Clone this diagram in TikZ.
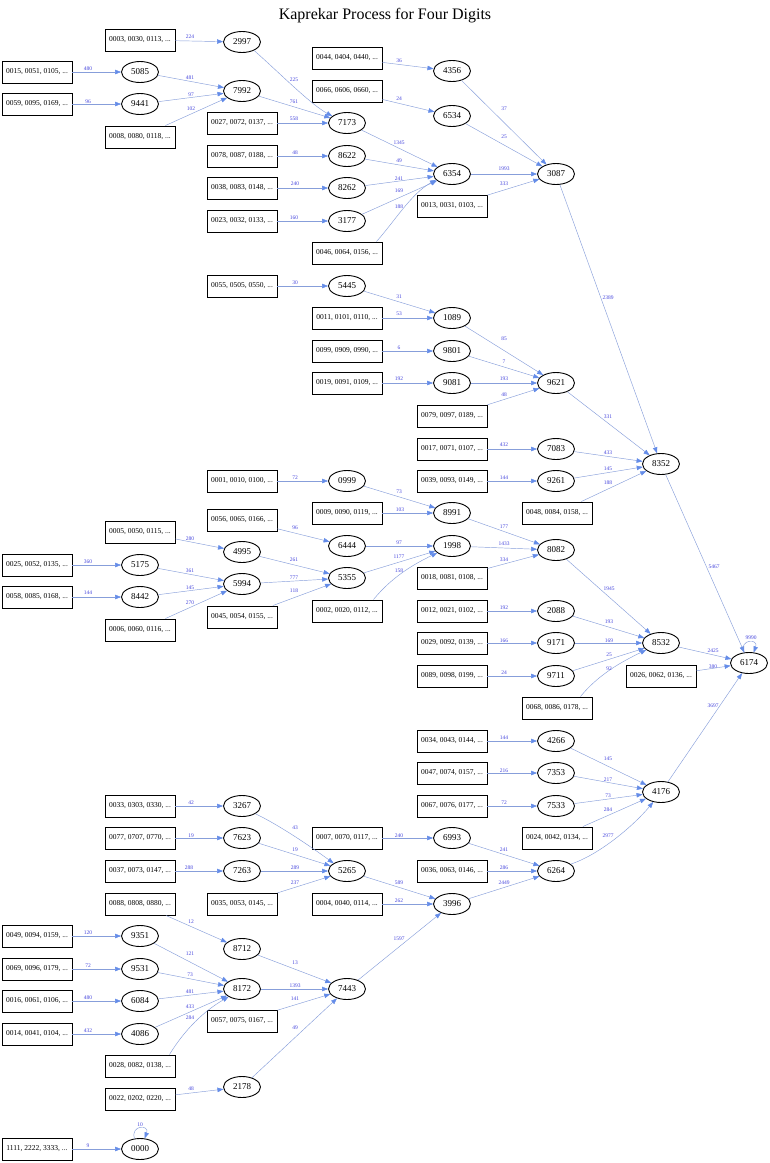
\documentclass[tikz,border=0pt]{standalone}
\usepackage{fontspec}
\setmainfont{Liberation Serif}
\usetikzlibrary{shapes.geometric,arrows.meta}
\definecolor{edgec}{RGB}{135,158,218}
\definecolor{tipc}{RGB}{100,140,232}
\definecolor{lblc}{RGB}{70,70,220}
\tikzset{
  ell/.style={ellipse, draw, line width=0.9pt, minimum width=37pt, minimum height=21pt, inner sep=0pt, font=\fontsize{9}{9}\selectfont},
  bx/.style={rectangle, draw, line width=0.9pt, minimum width=70pt, minimum height=22pt, inner sep=0pt, font=\fontsize{7.5}{7.5}\selectfont},
  con/.style={draw=edgec, line width=0.45pt, -{Triangle[length=6pt,width=4.5pt,color=tipc]}},
  lbl/.style={text=lblc, font=\fontsize{5.5}{5.5}\selectfont, inner sep=0pt},
  ttl/.style={font=\fontsize{16}{16}\selectfont}
}
\newcommand\kedge[4]{\draw[con] (#1) -- (#2) node[lbl] at (#3) {#4};}
\begin{document}
\begin{tikzpicture}[x=1pt,y=-1pt]
\useasboundingbox (0,0) rectangle (770,1163);
\node[ttl] (title) at (385,16) {Kaprekar Process for Four Digits};
% ellipses
\node[ell] (e2997) at (242,42) {2997};
\node[ell] (e5085) at (140,72) {5085};
\node[ell] (e9441) at (140,104) {9441};
\node[ell] (e7992) at (242,91) {7992};
\node[ell] (e7173) at (347,123) {7173};
\node[ell] (e8622) at (347,156) {8622};
\node[ell] (e8262) at (347,188) {8262};
\node[ell] (e3177) at (347,221) {3177};
\node[ell] (e4356) at (452,71) {4356};
\node[ell] (e6534) at (452,116) {6534};
\node[ell] (e6354) at (452,174) {6354};
\node[ell] (e3087) at (556,174) {3087};
\node[ell] (e5445) at (347,286) {5445};
\node[ell] (e1089) at (452,318) {1089};
\node[ell] (e9801) at (452,351) {9801};
\node[ell] (e9081) at (452,383) {9081};
\node[ell] (e9621) at (556,383) {9621};
\node[ell] (e7083) at (556,449) {7083};
\node[ell] (e9261) at (556,481) {9261};
\node[ell] (e8352) at (661,464) {8352};
\node[ell] (e0999) at (347,481) {0999};
\node[ell] (e8991) at (452,513) {8991};
\node[ell] (e6444) at (347,546) {6444};
\node[ell] (e4995) at (242,552) {4995};
\node[ell] (e5175) at (140,565) {5175};
\node[ell] (e8442) at (140,597) {8442};
\node[ell] (e5994) at (242,584) {5994};
\node[ell] (e5355) at (347,578) {5355};
\node[ell] (e1998) at (452,546) {1998};
\node[ell] (e8082) at (556,550) {8082};
\node[ell] (e2088) at (556,611) {2088};
\node[ell] (e9171) at (556,643) {9171};
\node[ell] (e9711) at (556,676) {9711};
\node[ell] (e8532) at (661,643) {8532};
\node[ell] (e6174) at (749,663) {6174};
\node[ell] (e4266) at (556,741) {4266};
\node[ell] (e7353) at (556,773) {7353};
\node[ell] (e7533) at (556,806) {7533};
\node[ell] (e4176) at (661,792) {4176};
\node[ell] (e6993) at (452,838) {6993};
\node[ell] (e6264) at (556,871) {6264};
\node[ell] (e3996) at (452,904) {3996};
\node[ell] (e3267) at (242,806) {3267};
\node[ell] (e7623) at (242,838) {7623};
\node[ell] (e7263) at (242,871) {7263};
\node[ell] (e5265) at (347,871) {5265};
\node[ell] (e8712) at (242,949) {8712};
\node[ell] (e9351) at (140,936) {9351};
\node[ell] (e9531) at (140,969) {9531};
\node[ell] (e6084) at (140,1001) {6084};
\node[ell] (e4086) at (140,1034) {4086};
\node[ell] (e8172) at (242,989) {8172};
\node[ell] (e7443) at (347,989) {7443};
\node[ell] (e2178) at (242,1087) {2178};
\node[ell] (e0000) at (140,1149) {0000};
% boxes
\node[bx] (b0003) at (140,40) {0003, 0030, 0113, ...};
\node[bx] (b0015) at (37,72) {0015, 0051, 0105, ...};
\node[bx] (b0059) at (37,104) {0059, 0095, 0169, ...};
\node[bx] (b0008) at (140,137) {0008, 0080, 0118, ...};
\node[bx] (b0027) at (242,123) {0027, 0072, 0137, ...};
\node[bx] (b0078) at (242,156) {0078, 0087, 0188, ...};
\node[bx] (b0038) at (242,188) {0038, 0083, 0148, ...};
\node[bx] (b0023) at (242,221) {0023, 0032, 0133, ...};
\node[bx] (b0055) at (242,286) {0055, 0505, 0550, ...};
\node[bx] (b0044) at (347,58) {0044, 0404, 0440, ...};
\node[bx] (b0066) at (347,91) {0066, 0606, 0660, ...};
\node[bx] (b0046) at (347,253) {0046, 0064, 0156, ...};
\node[bx] (b0013) at (452,206) {0013, 0031, 0103, ...};
\node[bx] (b0011) at (347,318) {0011, 0101, 0110, ...};
\node[bx] (b0099) at (347,351) {0099, 0909, 0990, ...};
\node[bx] (b0019) at (347,383) {0019, 0091, 0109, ...};
\node[bx] (b0079) at (452,416) {0079, 0097, 0189, ...};
\node[bx] (b0017) at (452,449) {0017, 0071, 0107, ...};
\node[bx] (b0039) at (452,481) {0039, 0093, 0149, ...};
\node[bx] (b0048) at (557,513) {0048, 0084, 0158, ...};
\node[bx] (b0001) at (242,481) {0001, 0010, 0100, ...};
\node[bx] (b0009) at (347,513) {0009, 0090, 0119, ...};
\node[bx] (b0056) at (242,520) {0056, 0065, 0166, ...};
\node[bx] (b0005) at (140,532) {0005, 0050, 0115, ...};
\node[bx] (b0025) at (37,565) {0025, 0052, 0135, ...};
\node[bx] (b0058) at (37,597) {0058, 0085, 0168, ...};
\node[bx] (b0006) at (140,630) {0006, 0060, 0116, ...};
\node[bx] (b0045) at (242,617) {0045, 0054, 0155, ...};
\node[bx] (b0002) at (347,611) {0002, 0020, 0112, ...};
\node[bx] (b0018) at (452,578) {0018, 0081, 0108, ...};
\node[bx] (b0012) at (452,611) {0012, 0021, 0102, ...};
\node[bx] (b0029) at (452,643) {0029, 0092, 0139, ...};
\node[bx] (b0089) at (452,676) {0089, 0098, 0199, ...};
\node[bx] (b0068) at (557,708) {0068, 0086, 0178, ...};
\node[bx] (b0026) at (661,676) {0026, 0062, 0136, ...};
\node[bx] (b0034) at (452,741) {0034, 0043, 0144, ...};
\node[bx] (b0047) at (452,773) {0047, 0074, 0157, ...};
\node[bx] (b0067) at (452,806) {0067, 0076, 0177, ...};
\node[bx] (b0024) at (557,838) {0024, 0042, 0134, ...};
\node[bx] (b0007) at (347,838) {0007, 0070, 0117, ...};
\node[bx] (b0036) at (452,871) {0036, 0063, 0146, ...};
\node[bx] (b0004) at (347,904) {0004, 0040, 0114, ...};
\node[bx] (b0033) at (140,806) {0033, 0303, 0330, ...};
\node[bx] (b0077) at (140,838) {0077, 0707, 0770, ...};
\node[bx] (b0037) at (140,871) {0037, 0073, 0147, ...};
\node[bx] (b0088) at (140,904) {0088, 0808, 0880, ...};
\node[bx] (b0035) at (242,904) {0035, 0053, 0145, ...};
\node[bx] (b0049) at (37,936) {0049, 0094, 0159, ...};
\node[bx] (b0069) at (37,969) {0069, 0096, 0179, ...};
\node[bx] (b0016) at (37,1001) {0016, 0061, 0106, ...};
\node[bx] (b0014) at (37,1034) {0014, 0041, 0104, ...};
\node[bx] (b0028) at (140,1066) {0028, 0082, 0138, ...};
\node[bx] (b0057) at (242,1021) {0057, 0075, 0167, ...};
\node[bx] (b0022) at (140,1099) {0022, 0202, 0220, ...};
\node[bx] (b1111) at (37,1149) {1111, 2222, 3333, ...};
% edges
\kedge{b0003}{e2997}{190,37}{224}
\kedge{b0015}{e5085}{88,69}{480}
\kedge{b0059}{e9441}{88,102}{96}
\kedge{e5085}{e7992}{190,78}{481}
\kedge{e9441}{e7992}{191,95}{97}
\kedge{b0008}{e7992}{191,109}{102}
\draw[con] (e2997.-35) .. controls +(25,22) and +(-22,-12) .. (e7173.155) node[lbl] at (294,80) {225};
\kedge{e7992}{e7173}{294,102}{761}
\kedge{b0027}{e7173}{294,119}{558}
\kedge{b0078}{e8622}{295,153}{48}
\kedge{b0038}{e8262}{295,184}{240}
\kedge{b0023}{e3177}{294,218}{160}
\kedge{b0044}{e4356}{399,61}{36}
\kedge{b0066}{e6534}{399,99}{24}
\kedge{e7173}{e6354}{399,143}{1345}
\kedge{e8622}{e6354}{399,161}{49}
\kedge{e8262}{e6354}{399,179}{241}
\kedge{e3177}{e6354}{399,191}{169}
\draw[con] ([xshift=-6pt]b0046.north east) .. controls +(18,-20) and +(-25,14) .. (e6354.200) node[lbl] at (399,207) {188};
\kedge{e4356}{e3087}{504,109}{37}
\kedge{e6534}{e3087}{504,137}{25}
\kedge{e6354}{e3087}{504,169}{1993}
\kedge{b0013}{e3087}{504,184}{333}
\kedge{e3087}{e8352}{608,298}{2389}
\kedge{b0055}{e5445}{295,283}{30}
\kedge{e5445}{e1089}{399,297}{31}
\kedge{b0011}{e1089}{399,314}{53}
\kedge{b0099}{e9801}{399,348}{6}
\kedge{b0019}{e9081}{399,379}{192}
\kedge{e1089}{e9621}{504,339}{85}
\kedge{e9801}{e9621}{504,362}{7}
\kedge{e9081}{e9621}{504,379}{193}
\kedge{b0079}{e9621}{504,395}{48}
\kedge{e9621}{e8352}{608,417}{331}
\kedge{b0017}{e7083}{504,445}{432}
\kedge{b0039}{e9261}{504,478}{144}
\kedge{e7083}{e8352}{608,453}{433}
\kedge{e9261}{e8352}{608,469}{145}
\kedge{b0048}{e8352}{608,483}{188}
\kedge{e8352}{e6174}{714,567}{5467}
\kedge{b0001}{e0999}{295,478}{72}
\kedge{e0999}{e8991}{399,492}{73}
\kedge{b0009}{e8991}{400,510}{103}
\kedge{b0056}{e6444}{295,528}{96}
\kedge{b0005}{e4995}{190,539}{280}
\kedge{b0025}{e5175}{88,562}{360}
\kedge{b0058}{e8442}{88,593}{144}
\kedge{e5175}{e5994}{190,571}{361}
\kedge{e8442}{e5994}{190,588}{145}
\kedge{b0006}{e5994}{190,603}{270}
\kedge{e4995}{e5355}{294,560}{261}
\kedge{e5994}{e5355}{294,578}{777}
\kedge{b0045}{e5355}{294,591}{118}
\kedge{e6444}{e1998}{399,543}{97}
\kedge{e5355}{e1998}{399,557}{1177}
\draw[con] ([xshift=-9pt]b0002.north east) .. controls +(18,-22) and +(-25,12) .. (e1998.205) node[lbl] at (399,571) {158};
\kedge{e8991}{e8082}{504,527}{177}
\kedge{e1998}{e8082}{504,544}{1433}
\kedge{b0018}{e8082}{504,560}{334}
\kedge{e8082}{e8532}{609,589}{1945}
\kedge{b0012}{e2088}{504,608}{192}
\kedge{b0029}{e9171}{504,641}{166}
\kedge{b0089}{e9711}{504,673}{24}
\kedge{e2088}{e8532}{609,622}{193}
\kedge{e9171}{e8532}{609,641}{169}
\kedge{e9711}{e8532}{609,655}{25}
\draw[con] ([xshift=-12pt]b0068.north east) .. controls +(18,-22) and +(-25,12) .. (e8532.205) node[lbl] at (609,669) {92};
\kedge{e8532}{e6174}{713,651}{2425}
\kedge{b0026}{e6174}{713,667}{380}
\draw[con] (e6174.118) .. controls +(-4,-14) and +(5,-14) .. (e6174.66) node[lbl] at (751,638) {9990};
\kedge{e4176}{e6174}{713,706}{3697}
\kedge{b0034}{e4266}{504,738}{144}
\kedge{b0047}{e7353}{504,771}{216}
\kedge{b0067}{e7533}{504,803}{72}
\kedge{e4266}{e4176}{608,759}{145}
\kedge{e7353}{e4176}{608,780}{217}
\kedge{e7533}{e4176}{608,796}{73}
\kedge{b0024}{e4176}{608,810}{284}
\draw[con] (e6264.25) .. controls +(30,-10) and +(-18,22) .. (e4176.232) node[lbl] at (608,836) {2977};
\kedge{b0007}{e6993}{399,836}{240}
\kedge{e6993}{e6264}{504,850}{241}
\kedge{b0036}{e6264}{504,868}{286}
\kedge{e3996}{e6264}{504,883}{2449}
\kedge{e5265}{e3996}{399,883}{589}
\kedge{b0004}{e3996}{399,901}{262}
\kedge{e7443}{e3996}{399,939}{1597}
\kedge{b0033}{e3267}{191,803}{42}
\kedge{b0077}{e7623}{191,836}{19}
\kedge{b0037}{e7263}{189,868}{288}
\draw[con] (e3267.-30) .. controls +(25,12) and +(-22,-16) .. (e5265.150) node[lbl] at (295,828) {43};
\kedge{e7623}{e5265}{295,850}{19}
\kedge{e7263}{e5265}{295,868}{289}
\kedge{b0035}{e5265}{295,883}{237}
\kedge{b0088}{e8712}{191,922}{12}
\kedge{b0049}{e9351}{88,933}{120}
\kedge{b0069}{e9531}{88,966}{72}
\kedge{b0016}{e6084}{88,998}{480}
\kedge{b0014}{e4086}{88,1031}{432}
\kedge{e9351}{e8172}{190,954}{121}
\kedge{e9531}{e8172}{190,975}{73}
\kedge{e6084}{e8172}{190,992}{481}
\kedge{e4086}{e8172}{190,1007}{433}
\draw[con] ([xshift=-6pt]b0028.north east) .. controls +(16,-26) and +(-24,14) .. (e8172.210) node[lbl] at (190,1018) {284};
\kedge{e8712}{e7443}{295,963}{13}
\kedge{e8172}{e7443}{295,986}{1393}
\kedge{b0057}{e7443}{295,999}{141}
\kedge{e2178}{e7443}{295,1028}{49}
\kedge{b0022}{e2178}{191,1089}{48}
\kedge{b1111}{e0000}{88,1146}{9}
\draw[con] (e0000.118) .. controls +(-4,-14) and +(5,-14) .. (e0000.66) node[lbl] at (140,1125) {10};
\end{tikzpicture}
\end{document}
